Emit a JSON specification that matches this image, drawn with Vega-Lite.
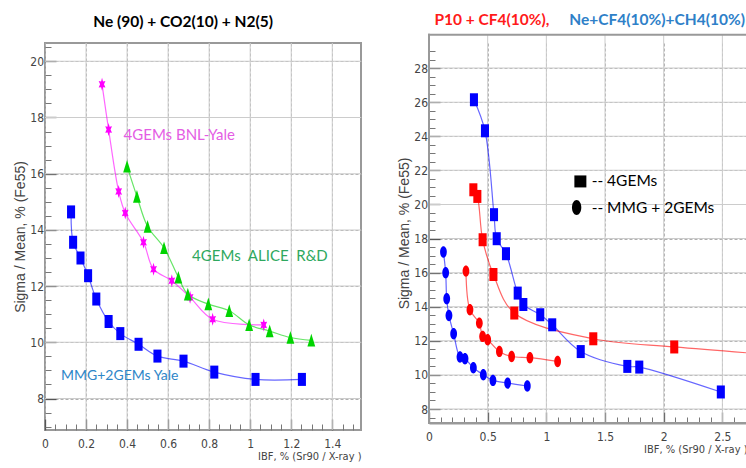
{
  "$schema": "https://vega.github.io/schema/vega-lite/v6.json",
  "padding": {"left": 12, "top": 12, "right": 0, "bottom": 0},
  "spacing": 35,
  "background": "white",
  "config": {
    "view": {"stroke": "#999", "strokeWidth": 2},
    "axis": {
      "domain": false,
      "labelFont": "Liberation Sans Narrow, DejaVu Sans Condensed, Liberation Sans",
      "labelFontSize": 12,
      "labelColor": "#444",
      "labelOverlap": false,
      "labelFlush": false,
      "titleFont": "Liberation Sans",
      "titleFontWeight": "normal",
      "titleColor": "#444",
      "tickColor": "#555",
      "tickWidth": 1.3,
      "gridColor": "#b0b0b0",
      "gridDash": [3, 2],
      "gridWidth": 1
    }
  },
  "hconcat": [
    {
      "width": 316,
      "height": 387,
      "resolve": {"axis": {"x": "independent", "y": "independent"}},
      "data": {"values": [
        {"series": "BNL", "ibf": 0.278, "sigma": 19.18},
        {"series": "BNL", "ibf": 0.31, "sigma": 17.57},
        {"series": "BNL", "ibf": 0.359, "sigma": 15.37},
        {"series": "BNL", "ibf": 0.391, "sigma": 14.6},
        {"series": "BNL", "ibf": 0.48, "sigma": 13.56},
        {"series": "BNL", "ibf": 0.529, "sigma": 12.6},
        {"series": "BNL", "ibf": 0.618, "sigma": 12.19},
        {"series": "BNL", "ibf": 0.707, "sigma": 11.6},
        {"series": "BNL", "ibf": 0.817, "sigma": 10.82},
        {"series": "BNL", "ibf": 1.066, "sigma": 10.62},
        {"series": "ALICE", "ibf": 0.4, "sigma": 16.26},
        {"series": "ALICE", "ibf": 0.448, "sigma": 15.19},
        {"series": "ALICE", "ibf": 0.5, "sigma": 14.12},
        {"series": "ALICE", "ibf": 0.58, "sigma": 13.36},
        {"series": "ALICE", "ibf": 0.65, "sigma": 12.31},
        {"series": "ALICE", "ibf": 0.696, "sigma": 11.71},
        {"series": "ALICE", "ibf": 0.796, "sigma": 11.36},
        {"series": "ALICE", "ibf": 0.898, "sigma": 11.12},
        {"series": "ALICE", "ibf": 0.995, "sigma": 10.62},
        {"series": "ALICE", "ibf": 1.095, "sigma": 10.4},
        {"series": "ALICE", "ibf": 1.196, "sigma": 10.17},
        {"series": "ALICE", "ibf": 1.298, "sigma": 10.07},
        {"series": "Yale", "ibf": 0.127, "sigma": 14.64},
        {"series": "Yale", "ibf": 0.137, "sigma": 13.56},
        {"series": "Yale", "ibf": 0.173, "sigma": 13.0},
        {"series": "Yale", "ibf": 0.21, "sigma": 12.37},
        {"series": "Yale", "ibf": 0.25, "sigma": 11.54},
        {"series": "Yale", "ibf": 0.31, "sigma": 10.74},
        {"series": "Yale", "ibf": 0.367, "sigma": 10.31},
        {"series": "Yale", "ibf": 0.456, "sigma": 9.93},
        {"series": "Yale", "ibf": 0.548, "sigma": 9.51},
        {"series": "Yale", "ibf": 0.675, "sigma": 9.33},
        {"series": "Yale", "ibf": 0.825, "sigma": 8.94},
        {"series": "Yale", "ibf": 1.026, "sigma": 8.68},
        {"series": "Yale", "ibf": 1.252, "sigma": 8.68}
      ]},
      "layer": [
        {"data": {"values": [{}]}, "mark": {"type": "rect", "color": "#cccccc"}, "encoding": {"x": {"datum": 0.1975, "type": "quantitative", "axis": null}, "x2": {"datum": 0.2025}}},
        {"data": {"values": [{}]}, "mark": {"type": "rect", "color": "#cccccc"}, "encoding": {"x": {"datum": 0.3975, "type": "quantitative", "axis": null}, "x2": {"datum": 0.4025}}},
        {"data": {"values": [{}]}, "mark": {"type": "rect", "color": "#cccccc"}, "encoding": {"x": {"datum": 0.5975, "type": "quantitative", "axis": null}, "x2": {"datum": 0.6025}}},
        {"data": {"values": [{}]}, "mark": {"type": "rect", "color": "#cccccc"}, "encoding": {"x": {"datum": 0.7975, "type": "quantitative", "axis": null}, "x2": {"datum": 0.8025}}},
        {"data": {"values": [{}]}, "mark": {"type": "rect", "color": "#cccccc"}, "encoding": {"x": {"datum": 0.9975, "type": "quantitative", "axis": null}, "x2": {"datum": 1.0025}}},
        {"data": {"values": [{}]}, "mark": {"type": "rect", "color": "#cccccc"}, "encoding": {"x": {"datum": 1.1975, "type": "quantitative", "axis": null}, "x2": {"datum": 1.2025}}},
        {"data": {"values": [{}]}, "mark": {"type": "rect", "color": "#cccccc"}, "encoding": {"x": {"datum": 1.3975, "type": "quantitative", "axis": null}, "x2": {"datum": 1.4025}}},
        {"data": {"values": [{}]}, "mark": {"type": "rect", "color": "#cccccc"}, "encoding": {"y": {"datum": 7.982, "type": "quantitative", "axis": null}, "y2": {"datum": 8.018}}},
        {"data": {"values": [{}]}, "mark": {"type": "rect", "color": "#cccccc"}, "encoding": {"y": {"datum": 9.982, "type": "quantitative", "axis": null}, "y2": {"datum": 10.018}}},
        {"data": {"values": [{}]}, "mark": {"type": "rect", "color": "#cccccc"}, "encoding": {"y": {"datum": 11.982, "type": "quantitative", "axis": null}, "y2": {"datum": 12.018}}},
        {"data": {"values": [{}]}, "mark": {"type": "rect", "color": "#cccccc"}, "encoding": {"y": {"datum": 13.982, "type": "quantitative", "axis": null}, "y2": {"datum": 14.018}}},
        {"data": {"values": [{}]}, "mark": {"type": "rect", "color": "#cccccc"}, "encoding": {"y": {"datum": 15.982, "type": "quantitative", "axis": null}, "y2": {"datum": 16.018}}},
        {"data": {"values": [{}]}, "mark": {"type": "rect", "color": "#cccccc"}, "encoding": {"y": {"datum": 17.982, "type": "quantitative", "axis": null}, "y2": {"datum": 18.018}}},
        {"data": {"values": [{}]}, "mark": {"type": "rect", "color": "#cccccc"}, "encoding": {"y": {"datum": 19.982, "type": "quantitative", "axis": null}, "y2": {"datum": 20.018}}},
        {
          "mark": {"type": "line", "interpolate": "catmull-rom", "strokeWidth": 1.2, "opacity": 0.6},
          "encoding": {
            "x": {
              "field": "ibf", "type": "quantitative",
              "scale": {"domain": [0, 1.54], "nice": false, "zero": false},
              "axis": {
                "orient": "bottom",
                "title": "IBF, % (Sr90 / X-ray )",
                "titleAnchor": "end",
                "titleFont": "Liberation Sans Narrow, DejaVu Sans Condensed, Liberation Sans",
                "titleFontSize": 11,
                "titlePadding": 1,
                "values": [0, 0.2, 0.4, 0.6, 0.8, 1, 1.2, 1.4],
                "format": "~g",
                "tickSize": -11,
                "grid": true,
                "labelPadding": 19
              }
            },
            "y": {
              "field": "sigma", "type": "quantitative",
              "scale": {"domain": [6.88, 20.65], "nice": false, "zero": false},
              "axis": {
                "orient": "left",
                "title": "Sigma / Mean, % (Fe55)",
                "titleFontSize": 14,
                "titlePadding": 2,
                "values": [8, 10, 12, 14, 16, 18, 20],
                "format": "~g",
                "tickSize": -11,
                "grid": true,
                "labelPadding": 12.5
              }
            },
            "color": {"field": "series", "type": "nominal", "scale": {"domain": ["BNL", "ALICE", "Yale", "P4", "PM", "Ne4", "NeM"], "range": ["#FF00FF", "#00D400", "#0000FF", "#FF0000", "#FF0000", "#0000FF", "#0000FF"]}, "legend": null}
          }
        },
        {
          "mark": {"type": "point", "filled": true, "opacity": 1, "size": 169, "strokeWidth": 0},
          "encoding": {
            "x": {"field": "ibf", "type": "quantitative", "axis": {"orient": "bottom", "values": [0.05,0.1,0.15,0.25,0.3,0.35,0.45,0.5,0.55,0.65,0.7,0.75,0.85,0.9,0.95,1.05,1.1,1.15,1.25,1.3,1.35,1.45,1.5], "tickSize": -6, "tickColor": "#777", "tickWidth": 1, "labels": false, "domain": false, "grid": false, "title": null}},
            "y": {"field": "sigma", "type": "quantitative", "axis": {"orient": "left", "values": [7,7.5,8.5,9,9.5,10.5,11,11.5,12.5,13,13.5,14.5,15,15.5,16.5,17,17.5,18.5,19,19.5,20.5], "tickSize": -6, "tickColor": "#777", "tickWidth": 1, "labels": false, "domain": false, "grid": false, "title": null}},
            "color": {"field": "series", "type": "nominal", "scale": {"domain": ["BNL", "ALICE", "Yale", "P4", "PM", "Ne4", "NeM"], "range": ["#FF00FF", "#00D400", "#0000FF", "#FF0000", "#FF0000", "#0000FF", "#0000FF"]}, "legend": null},
            "shape": {"field": "series", "type": "nominal", "scale": {"domain": ["BNL", "ALICE", "Yale", "P4", "PM", "Ne4", "NeM"], "range": [
              "M0,-1L0.15,-0.433L0.52,-0.5L0.3,0L0.52,0.5L0.15,0.433L0,1L-0.15,0.433L-0.52,0.5L-0.3,0L-0.52,-0.5L-0.15,-0.433Z",
              "M0,-1L0.6,0.95L-0.6,0.95Z",
              "M-0.62,-1H0.62V1H-0.62Z",
              "M-0.62,-1H0.62V1H-0.62Z",
              "M0,-0.88A0.52,0.88,0,1,1,0,0.88A0.52,0.88,0,1,1,0,-0.88Z",
              "M-0.62,-1H0.62V1H-0.62Z",
              "M0,-0.88A0.52,0.88,0,1,1,0,0.88A0.52,0.88,0,1,1,0,-0.88Z"
            ]}, "legend": null}
          }
        },
        {
          "data": {"values": [{}]},
          "mark": {"type": "text", "text": "Ne (90) + CO2(10) + N2(5)", "align": "center", "baseline": "middle", "font": "Lato", "fontSize": 15.5, "fontWeight": "bold", "color": "#000"},
          "encoding": {
            "x": {"datum": 0.673, "type": "quantitative", "axis": null},
            "y": {"datum": 21.38, "type": "quantitative", "axis": null}
          }
        },
        {
          "data": {"values": [{}]},
          "mark": {"type": "text", "text": "4GEMs BNL-Yale", "align": "left", "baseline": "middle", "font": "Lato", "fontSize": 15, "color": "#E45CE4"},
          "encoding": {
            "x": {"datum": 0.383, "type": "quantitative", "axis": null},
            "y": {"datum": 17.36, "type": "quantitative", "axis": null}
          }
        },
        {
          "data": {"values": [{}]},
          "mark": {"type": "text", "text": "4GEMs\u00a0 ALICE\u00a0 R&D", "align": "left", "baseline": "middle", "font": "Lato", "fontSize": 15, "color": "#2EA85E"},
          "encoding": {
            "x": {"datum": 0.717, "type": "quantitative", "axis": null},
            "y": {"datum": 13.06, "type": "quantitative", "axis": null}
          }
        },
        {
          "data": {"values": [{}]},
          "mark": {"type": "text", "text": "MMG+2GEMs Yale", "align": "left", "baseline": "middle", "font": "Lato", "fontSize": 14, "color": "#2E86C8"},
          "encoding": {
            "x": {"datum": 0.078, "type": "quantitative", "axis": null},
            "y": {"datum": 8.79, "type": "quantitative", "axis": null}
          }
        }
      ]
    },
    {
      "width": 318,
      "height": 380,
      "view": {"stroke": null},
      "resolve": {"axis": {"x": "independent", "y": "independent"}},
      "data": {"values": [
        {"series": "Ne4", "ibf": 0.383, "sigma": 26.14},
        {"series": "Ne4", "ibf": 0.477, "sigma": 24.32},
        {"series": "Ne4", "ibf": 0.554, "sigma": 19.4},
        {"series": "Ne4", "ibf": 0.577, "sigma": 17.99},
        {"series": "Ne4", "ibf": 0.656, "sigma": 17.11},
        {"series": "Ne4", "ibf": 0.756, "sigma": 14.8},
        {"series": "Ne4", "ibf": 0.804, "sigma": 14.13},
        {"series": "Ne4", "ibf": 0.948, "sigma": 13.53},
        {"series": "Ne4", "ibf": 1.05, "sigma": 12.94},
        {"series": "Ne4", "ibf": 1.293, "sigma": 11.37},
        {"series": "Ne4", "ibf": 1.69, "sigma": 10.5},
        {"series": "Ne4", "ibf": 1.792, "sigma": 10.46},
        {"series": "Ne4", "ibf": 2.487, "sigma": 9.0},
        {"series": "P4", "ibf": 0.378, "sigma": 20.86},
        {"series": "P4", "ibf": 0.412, "sigma": 20.47},
        {"series": "P4", "ibf": 0.457, "sigma": 17.93},
        {"series": "P4", "ibf": 0.549, "sigma": 15.89},
        {"series": "P4", "ibf": 0.727, "sigma": 13.63},
        {"series": "P4", "ibf": 1.4, "sigma": 12.12},
        {"series": "P4", "ibf": 2.09, "sigma": 11.64},
        {"series": "P4", "ibf": 2.9, "sigma": 11.2},
        {"series": "PM", "ibf": 0.315, "sigma": 16.09},
        {"series": "PM", "ibf": 0.349, "sigma": 13.82},
        {"series": "PM", "ibf": 0.429, "sigma": 13.04},
        {"series": "PM", "ibf": 0.457, "sigma": 12.26},
        {"series": "PM", "ibf": 0.5, "sigma": 12.06},
        {"series": "PM", "ibf": 0.6, "sigma": 11.38},
        {"series": "PM", "ibf": 0.704, "sigma": 11.08},
        {"series": "PM", "ibf": 0.86, "sigma": 11.01},
        {"series": "PM", "ibf": 1.096, "sigma": 10.79},
        {"series": "NeM", "ibf": 0.123, "sigma": 17.21},
        {"series": "NeM", "ibf": 0.142, "sigma": 15.99},
        {"series": "NeM", "ibf": 0.151, "sigma": 14.47},
        {"series": "NeM", "ibf": 0.17, "sigma": 13.49},
        {"series": "NeM", "ibf": 0.21, "sigma": 12.42},
        {"series": "NeM", "ibf": 0.264, "sigma": 11.05},
        {"series": "NeM", "ibf": 0.307, "sigma": 10.95},
        {"series": "NeM", "ibf": 0.378, "sigma": 10.42},
        {"series": "NeM", "ibf": 0.463, "sigma": 10.01},
        {"series": "NeM", "ibf": 0.545, "sigma": 9.68},
        {"series": "NeM", "ibf": 0.67, "sigma": 9.52},
        {"series": "NeM", "ibf": 0.838, "sigma": 9.35}
      ]},
      "layer": [
        {"data": {"values": [{}]}, "mark": {"type": "rect", "color": "#cccccc"}, "encoding": {"x": {"datum": 0.4957, "type": "quantitative", "axis": null}, "x2": {"datum": 0.5043}, "y": {"datum": 29.95, "type": "quantitative", "axis": null}, "y2": {"datum": 7.18}}},
        {"data": {"values": [{}]}, "mark": {"type": "rect", "color": "#cccccc"}, "encoding": {"x": {"datum": 0.9957, "type": "quantitative", "axis": null}, "x2": {"datum": 1.0043}, "y": {"datum": 29.95, "type": "quantitative", "axis": null}, "y2": {"datum": 7.18}}},
        {"data": {"values": [{}]}, "mark": {"type": "rect", "color": "#cccccc"}, "encoding": {"x": {"datum": 1.4957, "type": "quantitative", "axis": null}, "x2": {"datum": 1.5043}, "y": {"datum": 29.95, "type": "quantitative", "axis": null}, "y2": {"datum": 7.18}}},
        {"data": {"values": [{}]}, "mark": {"type": "rect", "color": "#cccccc"}, "encoding": {"x": {"datum": 1.9957, "type": "quantitative", "axis": null}, "x2": {"datum": 2.0043}, "y": {"datum": 29.95, "type": "quantitative", "axis": null}, "y2": {"datum": 7.18}}},
        {"data": {"values": [{}]}, "mark": {"type": "rect", "color": "#cccccc"}, "encoding": {"x": {"datum": 2.4957, "type": "quantitative", "axis": null}, "x2": {"datum": 2.5043}, "y": {"datum": 29.95, "type": "quantitative", "axis": null}, "y2": {"datum": 7.18}}},
        {"data": {"values": [{}]}, "mark": {"type": "rect", "color": "#cccccc"}, "encoding": {"y": {"datum": 7.971, "type": "quantitative", "axis": null}, "y2": {"datum": 8.029}}},
        {"data": {"values": [{}]}, "mark": {"type": "rect", "color": "#cccccc"}, "encoding": {"y": {"datum": 9.971, "type": "quantitative", "axis": null}, "y2": {"datum": 10.029}}},
        {"data": {"values": [{}]}, "mark": {"type": "rect", "color": "#cccccc"}, "encoding": {"y": {"datum": 11.971, "type": "quantitative", "axis": null}, "y2": {"datum": 12.029}}},
        {"data": {"values": [{}]}, "mark": {"type": "rect", "color": "#cccccc"}, "encoding": {"y": {"datum": 13.971, "type": "quantitative", "axis": null}, "y2": {"datum": 14.029}}},
        {"data": {"values": [{}]}, "mark": {"type": "rect", "color": "#cccccc"}, "encoding": {"y": {"datum": 15.971, "type": "quantitative", "axis": null}, "y2": {"datum": 16.029}}},
        {"data": {"values": [{}]}, "mark": {"type": "rect", "color": "#cccccc"}, "encoding": {"y": {"datum": 17.971, "type": "quantitative", "axis": null}, "y2": {"datum": 18.029}}},
        {"data": {"values": [{}]}, "mark": {"type": "rect", "color": "#cccccc"}, "encoding": {"y": {"datum": 19.971, "type": "quantitative", "axis": null}, "y2": {"datum": 20.029}}},
        {"data": {"values": [{}]}, "mark": {"type": "rect", "color": "#cccccc"}, "encoding": {"y": {"datum": 21.971, "type": "quantitative", "axis": null}, "y2": {"datum": 22.029}}},
        {"data": {"values": [{}]}, "mark": {"type": "rect", "color": "#cccccc"}, "encoding": {"y": {"datum": 23.971, "type": "quantitative", "axis": null}, "y2": {"datum": 24.029}}},
        {"data": {"values": [{}]}, "mark": {"type": "rect", "color": "#cccccc"}, "encoding": {"y": {"datum": 25.971, "type": "quantitative", "axis": null}, "y2": {"datum": 26.029}}},
        {"data": {"values": [{}]}, "mark": {"type": "rect", "color": "#cccccc"}, "encoding": {"y": {"datum": 27.971, "type": "quantitative", "axis": null}, "y2": {"datum": 28.029}}},
        {"data": {"values": [{}]}, "mark": {"type": "rect", "color": "#999999"}, "encoding": {"x": {"datum": -0.0085, "type": "quantitative", "axis": null}, "x2": {"datum": 0.0085}, "y": {"datum": 30.009, "type": "quantitative", "axis": null}, "y2": {"datum": 7.121}}},
        {"data": {"values": [{}]}, "mark": {"type": "rect", "color": "#999999"}, "encoding": {"x": {"datum": -0.0085, "type": "quantitative", "axis": null}, "x2": {"datum": 2.71}, "y": {"datum": 29.891, "type": "quantitative", "axis": null}, "y2": {"datum": 30.009}}},
        {"data": {"values": [{}]}, "mark": {"type": "rect", "color": "#999999"}, "encoding": {"x": {"datum": -0.0085, "type": "quantitative", "axis": null}, "x2": {"datum": 2.71}, "y": {"datum": 7.121, "type": "quantitative", "axis": null}, "y2": {"datum": 7.239}}},
        {
          "mark": {"type": "line", "interpolate": "catmull-rom", "strokeWidth": 1.2, "opacity": 0.6, "clip": true},
          "encoding": {
            "x": {
              "field": "ibf", "type": "quantitative",
              "scale": {"domain": [0, 2.71], "nice": false, "zero": false},
              "axis": {
                "orient": "bottom",
                "title": "IBF, % (Sr90 / X-ray )",
                "titleAnchor": "end",
                "titleFont": "Liberation Sans Narrow, DejaVu Sans Condensed, Liberation Sans",
                "titleFontSize": 11,
                "titlePadding": 1,
                "domain": true, "domainColor": "#999", "domainWidth": 2,
                "values": [0, 0.5, 1, 1.5, 2, 2.5],
                "format": "~g",
                "tickSize": -11,
                "grid": true,
                "labelPadding": 19
              }
            },
            "y": {
              "field": "sigma", "type": "quantitative",
              "scale": {"domain": [7.18, 29.47], "nice": false, "zero": false},
              "axis": {
                "orient": "left",
                "title": "Sigma / Mean, % (Fe55)",
                "titleFontSize": 14,
                "titlePadding": 2,
                "values": [8, 10, 12, 14, 16, 18, 20, 22, 24, 26, 28],
                "format": "~g",
                "tickSize": -11,
                "grid": true,
                "labelPadding": 12.5
              }
            },
            "color": {"field": "series", "type": "nominal", "scale": {"domain": ["BNL", "ALICE", "Yale", "P4", "PM", "Ne4", "NeM"], "range": ["#FF00FF", "#00D400", "#0000FF", "#FF0000", "#FF0000", "#0000FF", "#0000FF"]}, "legend": null}
          }
        },
        {
          "mark": {"type": "point", "filled": true, "opacity": 1, "size": 169, "strokeWidth": 0, "clip": true},
          "encoding": {
            "x": {"field": "ibf", "type": "quantitative", "axis": {"orient": "bottom", "values": [0.1,0.2,0.3,0.4,0.6,0.7,0.8,0.9,1.1,1.2,1.3,1.4,1.6,1.7,1.8,1.9,2.1,2.2,2.3,2.4,2.6,2.7], "tickSize": -6, "tickColor": "#777", "tickWidth": 1, "labels": false, "domain": false, "grid": false, "title": null}},
            "y": {"field": "sigma", "type": "quantitative", "axis": {"orient": "left", "values": [7.5,8.5,9,9.5,10.5,11,11.5,12.5,13,13.5,14.5,15,15.5,16.5,17,17.5,18.5,19,19.5,20.5,21,21.5,22.5,23,23.5,24.5,25,25.5,26.5,27,27.5,28.5,29,29.5], "tickSize": -6, "tickColor": "#777", "tickWidth": 1, "labels": false, "domain": false, "grid": false, "title": null}},
            "color": {"field": "series", "type": "nominal", "scale": {"domain": ["BNL", "ALICE", "Yale", "P4", "PM", "Ne4", "NeM"], "range": ["#FF00FF", "#00D400", "#0000FF", "#FF0000", "#FF0000", "#0000FF", "#0000FF"]}, "legend": null},
            "shape": {"field": "series", "type": "nominal", "scale": {"domain": ["BNL", "ALICE", "Yale", "P4", "PM", "Ne4", "NeM"], "range": [
              "M0,-1L0.15,-0.433L0.52,-0.5L0.3,0L0.52,0.5L0.15,0.433L0,1L-0.15,0.433L-0.52,0.5L-0.3,0L-0.52,-0.5L-0.15,-0.433Z",
              "M0,-1L0.6,0.95L-0.6,0.95Z",
              "M-0.62,-1H0.62V1H-0.62Z",
              "M-0.62,-1H0.62V1H-0.62Z",
              "M0,-0.88A0.52,0.88,0,1,1,0,0.88A0.52,0.88,0,1,1,0,-0.88Z",
              "M-0.62,-1H0.62V1H-0.62Z",
              "M0,-0.88A0.52,0.88,0,1,1,0,0.88A0.52,0.88,0,1,1,0,-0.88Z"
            ]}, "legend": null}
          }
        },
        {
          "data": {"values": [{}]},
          "mark": {"type": "text", "text": "P10 + CF4(10%),", "align": "left", "baseline": "middle", "font": "Lato", "fontSize": 15.5, "fontWeight": "bold", "color": "#FF1A1A"},
          "encoding": {
            "x": {"datum": 0.046, "type": "quantitative", "axis": null},
            "y": {"datum": 30.83, "type": "quantitative", "axis": null}
          }
        },
        {
          "data": {"values": [{}]},
          "mark": {"type": "text", "text": "Ne+CF4(10%)+CH4(10%)", "align": "left", "baseline": "middle", "font": "Lato", "fontSize": 15.5, "fontWeight": "bold", "color": "#2E80C8"},
          "encoding": {
            "x": {"datum": 1.196, "type": "quantitative", "axis": null},
            "y": {"datum": 30.83, "type": "quantitative", "axis": null}
          }
        },
        {
          "data": {"values": [{}]},
          "mark": {"type": "point", "shape": "square", "filled": true, "opacity": 1, "size": 144, "color": "#000", "strokeWidth": 0},
          "encoding": {
            "x": {"datum": 1.29, "type": "quantitative", "axis": null},
            "y": {"datum": 21.35, "type": "quantitative", "axis": null}
          }
        },
        {
          "data": {"values": [{}]},
          "mark": {"type": "point", "shape": "M0,-1A0.62,1,0,1,1,0,1A0.62,1,0,1,1,0,-1Z", "filled": true, "opacity": 1, "size": 225, "color": "#000", "strokeWidth": 0},
          "encoding": {
            "x": {"datum": 1.258, "type": "quantitative", "axis": null},
            "y": {"datum": 19.82, "type": "quantitative", "axis": null}
          }
        },
        {
          "data": {"values": [{}]},
          "mark": {"type": "text", "text": "-- 4GEMs", "align": "left", "baseline": "middle", "font": "Lato", "fontSize": 15.5, "color": "#000"},
          "encoding": {
            "x": {"datum": 1.386, "type": "quantitative", "axis": null},
            "y": {"datum": 21.35, "type": "quantitative", "axis": null}
          }
        },
        {
          "data": {"values": [{}]},
          "mark": {"type": "text", "text": "-- MMG + 2GEMs", "align": "left", "baseline": "middle", "font": "Lato", "fontSize": 15.5, "color": "#000"},
          "encoding": {
            "x": {"datum": 1.386, "type": "quantitative", "axis": null},
            "y": {"datum": 19.82, "type": "quantitative", "axis": null}
          }
        }
      ]
    }
  ]
}
